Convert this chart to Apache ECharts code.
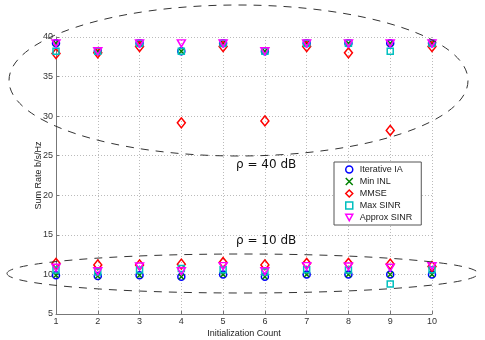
<!DOCTYPE html>
<html>
<head>
<meta charset="utf-8">
<script src="https://cdn.jsdelivr.net/npm/echarts@6/dist/echarts.min.js"></script>
<style>
html,body{margin:0;padding:0;background:#fff;}
#main{width:485px;height:340px;}
</style>
</head>
<body>
<div id="main"></div>
<script>
var counts = [1, 2, 3, 4, 5, 6, 7, 8, 9, 10];
var yTicks = [5, 10, 15, 20, 25, 30, 35, 40];
var names = ['Iterative IA', 'Min INL', 'MMSE', 'Max SINR', 'Approx SINR'];

// rho = 40 dB
var ia40     = [39.2, 38.2, 39.2, 38.2, 39.2, 38.2, 39.2, 39.2, 39.2, 39.2];
var inl40    = [39.2, 38.2, 39.2, 38.2, 39.2, 38.2, 39.2, 39.2, 39.2, 39.2];
var mmse40   = [37.9, 38.0, 38.8, 29.15, 38.8, 29.4, 38.8, 38.0, 28.2, 38.8];
var maxs40   = [38.2, 38.2, 39.2, 38.2, 39.2, 38.2, 39.2, 39.2, 38.2, 39.2];
var appr40   = [39.2, 38.2, 39.2, 39.2, 39.2, 38.2, 39.2, 39.2, 39.2, 39.2];

// rho = 10 dB
var ia10     = [9.9, 9.8, 9.9, 9.7, 10.0, 9.7, 10.0, 10.0, 10.0, 10.0];
var inl10    = [9.9, 9.8, 9.9, 9.7, 10.0, 9.7, 10.0, 10.0, 10.0, 10.0];
var mmse10   = [11.4, 11.2, 11.2, 11.3, 11.5, 11.2, 11.4, 11.4, 11.3, 11.0];
var maxs10   = [10.55, 10.3, 10.55, 10.75, 10.6, 10.3, 10.6, 10.55, 8.8, 10.6];
var appr10   = [10.85, 10.4, 11.0, 10.4, 11.05, 10.4, 11.05, 11.0, 10.85, 11.05];

function pairs(a, b){
	var out = [];
	for(var i = 0; i < counts.length; i++){
		out.push([counts[i], a[i]]);
		out.push([counts[i], b[i]]);
	}
	return out;
}

window.onload = function(){
	var myChart = echarts.init(document.getElementById('main'));
	var font = 'Liberation Sans, Arial, sans-serif';

	var styles = [
		{sym: 'circle', size: 7, color: '#0000ff'},
		{sym: 'path://M0,0L10,10M10,0L0,10', size: 5, color: '#008000'},
		{sym: 'diamond', size: [8, 10], color: '#ff0000'},
		{sym: 'rect', size: 6, color: '#00bfbf'},
		{sym: 'path://M0,0L10,0L5,9Z', size: [8, 7], color: '#ff00ff'}
	];
	var sets = [[ia40, ia10], [inl40, inl10], [mmse40, mmse10], [maxs40, maxs10], [appr40, appr10]];

	var series = [];
	for(var s = 0; s < names.length; s++){
		series.push({
			name: names[s],
			type: 'scatter',
			symbol: styles[s].sym,
			symbolSize: styles[s].size,
			itemStyle: {color: 'rgba(0,0,0,0)', borderColor: styles[s].color, borderWidth: 1.5, opacity: 1},
			emphasis: {disabled: true},
			data: pairs(sets[s][0], sets[s][1])
		});
	}

	var option = {
		animation: false,
		grid: {left: 56, right: 53, top: 37, bottom: 26, outerBoundsMode: 'none', containLabel: false},
		legend: {
			orient: 'vertical',
			left: 334,
			top: 162,
			data: names,
			itemWidth: 7,
			itemHeight: 7,
			itemGap: 3,
			padding: [3, 9, 3, 11],
			backgroundColor: '#fff',
			borderColor: '#555',
			borderWidth: 1,
			borderRadius: 0,
			itemStyle: {borderWidth: 1.5},
			textStyle: {fontFamily: font, fontSize: 9, color: '#222', padding: [0, 0, 0, 2]}
		},
		xAxis: {
			type: 'value',
			min: 1, max: 10, interval: 1,
			name: 'Initialization Count',
			nameLocation: 'middle',
			nameGap: 15,
			nameMoveOverlap: false,
			nameTextStyle: {fontFamily: font, fontSize: 9, color: '#222'},
			axisLine: {onZero: false, lineStyle: {color: '#777', width: 1}},
			axisTick: {inside: true, length: 3, lineStyle: {color: '#777'}},
			axisLabel: {fontFamily: font, fontSize: 9, color: '#333', margin: 3},
			splitLine: {show: true, lineStyle: {color: '#bbb', type: [1, 2], width: 1}}
		},
		yAxis: {
			type: 'value',
			min: 5, max: 40, interval: 5,
			name: 'Sum Rate b/s/Hz',
			nameLocation: 'middle',
			nameGap: 13,
			nameMoveOverlap: false,
			nameTextStyle: {fontFamily: font, fontSize: 9, color: '#222'},
			axisLine: {show: true, onZero: false, lineStyle: {color: '#777', width: 1}},
			axisTick: {show: true, inside: true, length: 3, lineStyle: {color: '#777'}},
			axisLabel: {fontFamily: font, fontSize: 9, color: '#333', margin: 3,
				formatter: function(v){ return yTicks.indexOf(v) >= 0 ? String(v) : ''; }},
			splitLine: {show: true, lineStyle: {color: '#bbb', type: [1, 2], width: 1}}
		},
		graphic: [
			{type: 'ellipse', z: 100, silent: true,
				shape: {cx: 238.5, cy: 80.5, rx: 229.5, ry: 75.5},
				style: {fill: 'none', stroke: '#333', lineWidth: 1, lineDash: [8, 7]}},
			{type: 'ellipse', z: 100, silent: true,
				shape: {cx: 242.5, cy: 273.5, rx: 235.5, ry: 19.5},
				style: {fill: 'none', stroke: '#333', lineWidth: 1, lineDash: [8, 7]}},
			{type: 'text', z: 100, left: 236, top: 159,
				style: {text: 'ρ = 40 dB', font: '12px DejaVu Sans', fill: '#111'}},
			{type: 'text', z: 100, left: 236, top: 235,
				style: {text: 'ρ = 10 dB', font: '12px DejaVu Sans', fill: '#111'}}
		],
		series: series
	};
	myChart.setOption(option);
}
</script>
</body>
</html>
